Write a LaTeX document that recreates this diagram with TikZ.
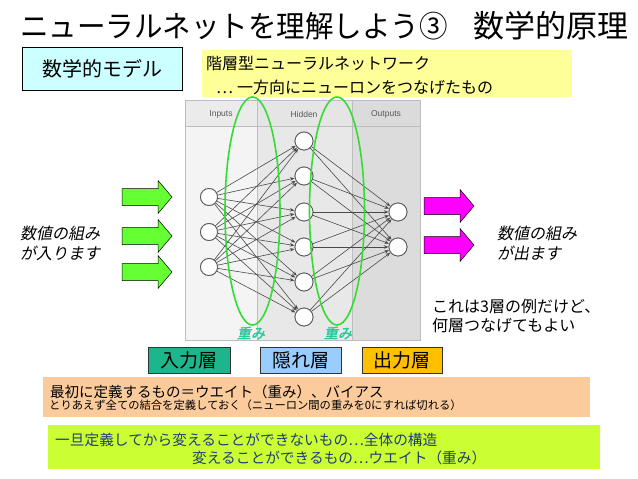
\documentclass[tikz,border=0pt]{standalone}
\usepackage{fontspec}
\setmainfont{Noto Sans CJK JP}
\newfontfamily\jpit[FakeSlant=0.2]{Noto Sans CJK JP}
\newfontfamily\jpbit[FakeSlant=0.2,FakeBold=2]{Noto Sans CJK JP}
\newfontfamily\lat{Liberation Sans}
\usetikzlibrary{arrows.meta,shapes.geometric}
\definecolor{cyanbox}{HTML}{CCFFFF}
\definecolor{yelbox}{HTML}{FFFF99}
\definecolor{tealbox}{HTML}{1DB58B}
\definecolor{bluebox}{HTML}{99CCFF}
\definecolor{goldbox}{HTML}{FFC000}
\definecolor{peach}{HTML}{FBCB9C}
\definecolor{limebox}{HTML}{CCFF33}
\definecolor{navytext}{HTML}{1F3C78}
\definecolor{garrow}{HTML}{66FF33}
\definecolor{marrow}{HTML}{FF00FF}
\definecolor{ellg}{HTML}{33DD33}
\definecolor{omomi}{HTML}{2EC79C}
\definecolor{colA}{HTML}{F4F4F4}
\definecolor{colB}{HTML}{E8E8E8}
\definecolor{colC}{HTML}{DCDCDC}
\definecolor{panelline}{HTML}{BDBDBD}
\definecolor{edgecol}{HTML}{4A4A4A}
\tikzset{
  fs/.style={font=\fontsize{#1}{#1}\selectfont},
  neuron/.style={circle,draw=edgecol!90,fill=white,line width=0.8pt,inner sep=0pt,minimum size=#1},
  nnedge/.style={draw=edgecol,line width=0.6pt,-{Stealth[length=4.5pt,width=3.5pt]},shorten >=0.3pt},
  layerbox/.style={draw=black!80,line width=0.8pt,minimum height=26pt,inner sep=0pt,font=\fontsize{19}{22}\selectfont},
  weightell/.style={ellipse,draw=ellg,line width=1.6pt,minimum width=55pt,minimum height=228pt,inner sep=0pt},
  wlabel/.style={text=omomi,font=\jpbit\fontsize{14}{16}\selectfont,inner sep=0pt},
  hdr/.style={text=black!65,font=\lat\fontsize{8.5}{10}\selectfont,inner sep=0pt},
  fatarrow/.pic={\filldraw[fill=#1,draw=black,line width=0.5pt] (0,-8.5) -- (36,-8.5) -- (36,-16.5) -- (50,0) -- (36,16.5) -- (36,8.5) -- (0,8.5) -- cycle;}
}
\begin{document}
\begin{tikzpicture}[x=1pt,y=-1pt]
\useasboundingbox (0,0) rectangle (638,479);
\fill[white] (0,0) rectangle (638,479);
% title
\node[anchor=west,inner sep=0pt,fs=30] (title1) at (20,26) {\scalebox{0.95}[1]{ニューラルネットを理解しよう③}};
\node[anchor=east,inner sep=0pt,fs=31] (title2) at (629,26) {数学的原理};
% model box
\node[draw=black,line width=0.8pt,fill=cyanbox,minimum width=160pt,minimum height=43pt,inner sep=0pt,fs=20] (model) at (102,68.5) {数学的モデル};
% yellow box
\node[fill=yelbox,minimum width=370pt,minimum height=47pt,inner sep=0pt] (ybox) at (387,73.5) {};
\node[anchor=west,inner sep=0pt,fs=16] (y1) at (206,63) {階層型ニューラルネットワーク};
\node[anchor=west,inner sep=0pt,fs=16] (y2) at (216,87) {…\hspace{4pt}一方向にニューロンをつなげたもの};
% network panel
\fill[colA] (185,100) rectangle (257,340);
\fill[colB] (257,100) rectangle (352,340);
\fill[colC] (352,100) rectangle (420,340);
\fill[black!8] (185,100) rectangle (257,126);
\fill[black!10] (257,100) rectangle (352,126);
\fill[black!14] (352,100) rectangle (420,126);
\draw[panelline,line width=0.8pt] (185,100) rectangle (420,340);
\draw[panelline,line width=0.8pt] (257,100) -- (257,340) (352,100) -- (352,340) (185,126) -- (420,126);
\node[hdr] (hin) at (221,114) {Inputs};
\node[hdr] (hhid) at (304,114) {Hidden};
\node[hdr] (hout) at (386,114) {Outputs};
% neurons
\foreach \y [count=\k] in {197,232,267} \node[neuron=17pt] (i\k) at (209,\y) {};
\foreach \y [count=\k] in {141,176,212,247,282,317} \node[neuron=18pt] (h\k) at (304,\y) {};
\foreach \y [count=\k] in {212,247} \node[neuron=18pt] (o\k) at (398,\y) {};
\foreach \a in {1,2,3} \foreach \b in {1,...,6} \draw[nnedge] (i\a) -- (h\b);
\foreach \a in {1,...,6} \foreach \b in {1,2} \draw[nnedge] (h\a) -- (o\b);
\foreach \y [count=\k] in {197,232,267} \node[neuron=17pt] at (209,\y) {};
\foreach \y [count=\k] in {141,176,212,247,282,317} \node[neuron=18pt] at (304,\y) {};
\foreach \y [count=\k] in {212,247} \node[neuron=18pt] at (398,\y) {};
% weight ellipses
\node[weightell] (e1) at (252.5,211) {};
\node[weightell] (e2) at (337,211) {};
\node[wlabel] (w1) at (251,333) {重み};
\node[wlabel] (w2) at (338,333) {重み};
% arrows
\pic at (122,197) {fatarrow=garrow};
\pic at (122,236) {fatarrow=garrow};
\pic at (122,272) {fatarrow=garrow};
\pic at (424,206) {fatarrow=marrow};
\pic at (424,245) {fatarrow=marrow};
% side texts
\node[anchor=west,align=left,inner sep=0pt,font=\jpit\fontsize{16}{20}\selectfont] (intext) at (20,243) {数値の組み\\が入ります};
\node[anchor=west,align=left,inner sep=0pt,font=\jpit\fontsize{16}{20}\selectfont] (outtext) at (497,243) {数値の組み\\が出ます};
\node[anchor=west,align=left,inner sep=0pt,font=\fontsize{16}{19}\selectfont] (note) at (432,316) {これは3層の例だけど、\\何層つなげてもよい};
% layer boxes
\node[layerbox,fill=tealbox,minimum width=82pt] (Lin) at (189,360) {入力層};
\node[layerbox,fill=bluebox,minimum width=81pt] (Lhid) at (300.5,360) {隠れ層};
\node[layerbox,fill=goldbox,minimum width=80pt] (Lout) at (402,360) {出力層};
% orange box
\node[fill=peach,minimum width=547pt,minimum height=40pt,inner sep=0pt] (obox) at (316.5,397) {};
\node[anchor=west,inner sep=0pt,fs=14.5] (o1) at (50,391.5) {最初に定義するもの＝ウエイト（重み）、バイアス};
\node[anchor=west,inner sep=0pt,fs=11.3] (o2) at (49,405) {とりあえず全ての結合を定義しておく（ニューロン間の重みを0にすれば切れる）};
% lime box
\node[fill=limebox,minimum width=552pt,minimum height=44pt,inner sep=0pt] (gbox) at (324,447) {};
\node[anchor=west,inner sep=0pt,text=navytext,fs=14.7] (g1) at (55,440) {一旦定義してから変えることができないもの…全体の構造};
\node[anchor=west,inner sep=0pt,text=navytext,fs=14.7] (g2) at (192,458) {変えることができるもの…ウエイト（重み）};
\end{tikzpicture}
\end{document}
